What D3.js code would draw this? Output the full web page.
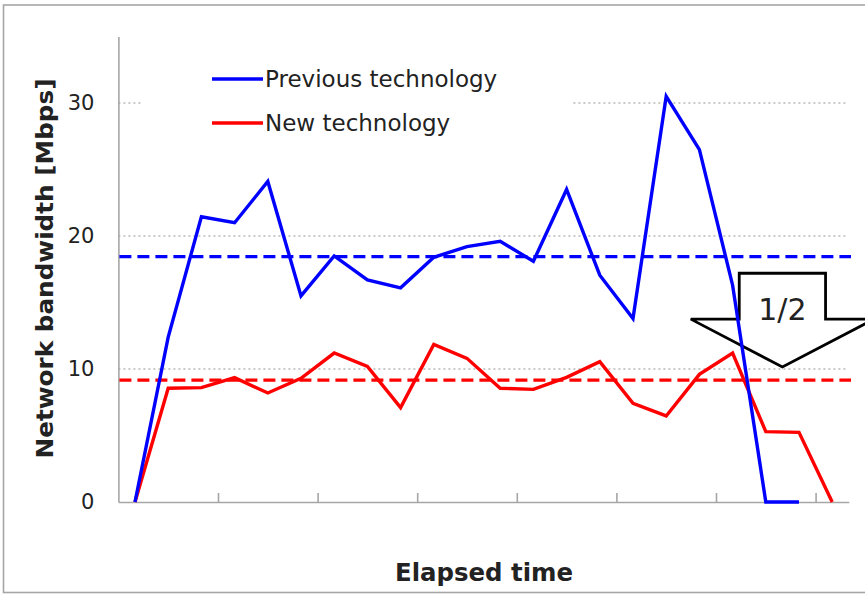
<!DOCTYPE html>
<html>
<head>
<meta charset="utf-8">
<script src="https://cdn.jsdelivr.net/npm/d3@7"></script>
<style>
  html, body { margin: 0; padding: 0; background: #fff; }
  svg { display: block; }
  text { font-family: "DejaVu Sans", Verdana, sans-serif; }
</style>
</head>
<body>
<div id="chart"></div>
<script>
// ---- data ----
const categories = ["1","2","3","4","5","6","7","8","9","10","11","12","13","14","15","16","17","18","19","20","21","22"];
const previousTech = [0, 12.4, 21.45, 21.0, 24.1, 15.5, 18.5, 16.7, 16.1, 18.4, 19.2, 19.6, 18.1, 23.5, 17.05, 13.8, 30.5, 26.5, 16.3, 0, 0, null];
const newTech      = [0, 8.55, 8.6, 9.35, 8.2, 9.3, 11.2, 10.2, 7.1, 11.85, 10.8, 8.55, 8.47, 9.37, 10.55, 7.42, 6.47, 9.6, 11.2, 5.29, 5.24, 0];
const averages = [18.45, 9.17];           // previous, new
const seriesNames = ["Previous technology", "New technology"];
const seriesColors = ["#0000ff", "#ff0000"];
const yTicks = [0, 10, 20, 30];
const xTickEvery = 3;
const yTitle = "Network bandwidth [Mbps]";
const xTitle = "Elapsed time";
const ratioLabel = "1/2";

// ---- layout ----
const W = 865, H = 594;
const svg = d3.select("#chart").append("svg").attr("width", W).attr("height", H);

// outer frame
svg.append("rect").attr("x", 3.5).attr("y", 5).attr("width", 870).attr("height", 587.5)
  .attr("fill", "#fff").attr("stroke", "#a6a6a6").attr("stroke-width", 1.6);

const x0 = 118.4, x1 = 848.8;
const xb = d3.scaleLinear().domain([0, categories.length]).range([x0, x1]);
const xc = i => xb(i + 0.5);
const y = d3.scaleLinear().domain([0, 35]).range([502, 36.5]);

// gridlines (dotted)
const grid = svg.append("g");
grid.selectAll("line").data(yTicks.filter(d => d > 0)).join("line")
  .attr("x1", x0).attr("x2", 847)
  .attr("y1", d => y(d)).attr("y2", d => y(d))
  .attr("stroke", "#b8b8b8").attr("stroke-width", 1.6)
  .attr("stroke-dasharray", "2,3");

// y axis
const yAxis = svg.append("g").attr("transform", `translate(${x0},0)`)
  .call(d3.axisLeft(y).tickValues(yTicks).tickSize(0).tickSizeOuter(0).tickPadding(24).tickFormat(d3.format("d")));
yAxis.select(".domain").attr("stroke", "#a6a6a6").attr("stroke-width", 1.6);
yAxis.selectAll("text").attr("font-size", 21).attr("fill", "#222")
  .attr("font-family", "'DejaVu Sans', Verdana, sans-serif");

// x axis
const tickVals = d3.range(xTickEvery, categories.length, xTickEvery);
const xAxis = svg.append("g").attr("transform", `translate(0,${y(0)})`)
  .call(d3.axisBottom(xb).tickValues(tickVals).tickSize(-9).tickSizeOuter(0).tickFormat(""));
xAxis.select(".domain").attr("stroke", "#a6a6a6").attr("stroke-width", 1.6);
xAxis.selectAll(".tick line").attr("stroke", "#a6a6a6").attr("stroke-width", 1.6);

// arrow annotation (block arrow pointing down, centred on category boundary 20)
const ac = 20, boxHalf = 1.3, headHalf = 2.76;
const aTop = y(17.2), aSh = y(13.75), aTip = y(10.15);
const arrowPts = [
  [xb(ac - boxHalf), aTop], [xb(ac + boxHalf), aTop], [xb(ac + boxHalf), aSh], [xb(ac + headHalf), aSh],
  [xb(ac), aTip], [xb(ac - headHalf), aSh], [xb(ac - boxHalf), aSh]
];
svg.append("path")
  .attr("d", "M" + arrowPts.map(p => p.join(",")).join("L") + "Z")
  .attr("fill", "#fff").attr("stroke", "#000").attr("stroke-width", 2.8)
  .attr("stroke-linejoin", "miter");
svg.append("text").attr("x", xb(ac)).attr("y", 320).attr("text-anchor", "middle")
  .attr("font-size", 30).attr("fill", "#222").text(ratioLabel);

// average dashed lines
svg.append("g").selectAll("line").data(averages).join("line")
  .attr("x1", x0 + 1).attr("x2", 851)
  .attr("y1", d => y(d)).attr("y2", d => y(d))
  .attr("stroke", (d, i) => seriesColors[i]).attr("stroke-width", 3.3)
  .attr("stroke-dasharray", "12,6");

// series lines
const line = d3.line().defined(d => d != null).x((d, i) => xc(i)).y(d => y(d));
[newTech, previousTech].forEach((s, k) => {
  const color = k === 0 ? seriesColors[1] : seriesColors[0];
  svg.append("path").datum(s).attr("d", line)
    .attr("fill", "none").attr("stroke", color).attr("stroke-width", 3.4)
    .attr("stroke-linejoin", "miter").attr("stroke-linecap", "butt");
});

// legend (white box hides gridline behind it)
const lg = svg.append("g");
lg.append("rect").attr("x", 141).attr("y", 52).attr("width", 432).attr("height", 95).attr("fill", "#fff");
const legendY = [79, 123];
seriesNames.forEach((name, i) => {
  lg.append("line").attr("x1", 212).attr("x2", 263).attr("y1", legendY[i]).attr("y2", legendY[i])
    .attr("stroke", seriesColors[i]).attr("stroke-width", 3.3);
  lg.append("text").attr("x", 265).attr("y", legendY[i] + 7.5).attr("font-size", 23)
    .attr("fill", "#222").text(name);
});

// axis titles
svg.append("text").attr("transform", `translate(53,268.5) rotate(-90)`)
  .attr("text-anchor", "middle").attr("font-weight", "bold").attr("font-size", 22.5)
  .attr("textLength", 380).attr("lengthAdjust", "spacingAndGlyphs")
  .attr("fill", "#222").text(yTitle);
svg.append("text").attr("x", 484).attr("y", 581)
  .attr("text-anchor", "middle").attr("font-weight", "bold").attr("font-size", 25)
  .attr("textLength", 178).attr("lengthAdjust", "spacingAndGlyphs")
  .attr("fill", "#222").text(xTitle);
</script>
</body>
</html>
